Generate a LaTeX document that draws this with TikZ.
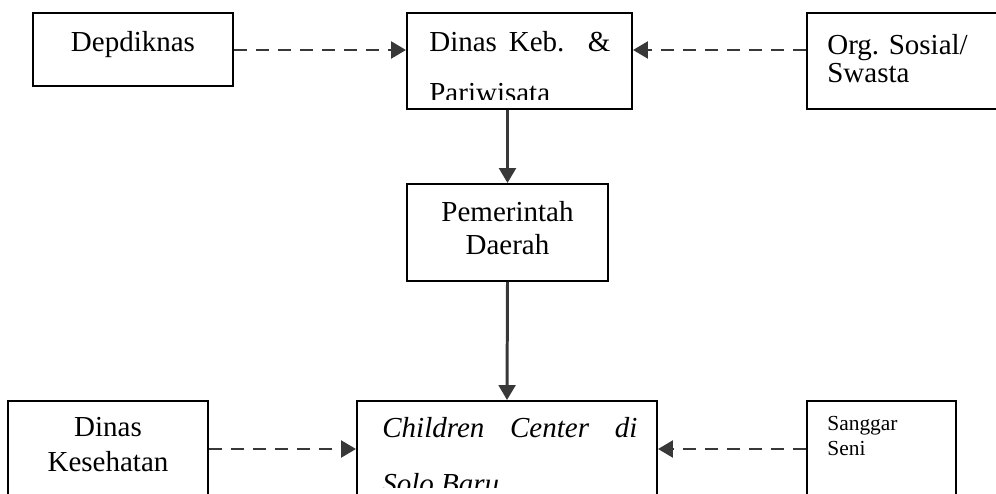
\documentclass[tikz,border=0pt]{standalone}
\usepackage{fontspec}
\setmainfont{Liberation Serif}
\usetikzlibrary{arrows.meta}

\tikzset{
  kotak/.style={draw, line width=1.1pt, inner sep=0pt},
  teks/.style={inner sep=0pt, font=\fontsize{16.5}{20}\selectfont},
  kecil/.style={inner sep=0pt, font=\fontsize{12.2}{14}\selectfont},
  garis/.style={draw=black!78, line width=1.7pt, -{Triangle[length=8.5pt,width=9.5pt]}},
  putus/.style={garis, dash pattern=on 7.5pt off 5pt},
}

\begin{document}
\begin{tikzpicture}
    \useasboundingbox (0,0) rectangle (19.92,-9.88);

    % kotak atas
    \node [kotak, minimum width=4cm, minimum height=1.46cm] (dep) at (2.66,-0.99) {};
    \node [kotak, minimum width=4.5cm, minimum height=1.92cm] (keb) at (10.39,-1.22) {};
    \node [kotak, minimum width=4.06cm, minimum height=1.92cm] (org) at (18.17,-1.22) {};
    \node [kotak, minimum width=4.02cm, minimum height=1.94cm] (pem) at (10.15,-4.65) {};

    % kotak bawah (terpotong di tepi bawah)
    \node [kotak, minimum width=4cm, minimum height=2.58cm] (kes) at (2.16,-9.31) {};
    \node [kotak, minimum width=6cm, minimum height=2.58cm] (chi) at (10.14,-9.31) {};
    \node [kotak, minimum width=2.98cm, minimum height=2.58cm] (san) at (17.63,-9.31) {};

    % teks
    \node [teks, anchor=base] (depA) at (2.66,-1.04) {Depdiknas};
    \node [teks, anchor=base west] (kebA) at (8.58,-1.03) {\makebox[3.62cm][s]{Dinas Keb. \&}};
    \begin{scope}
      \clip (8,-1.5) rectangle (12.6,-2.0);
      \node [teks, anchor=base west] (kebB) at (8.58,-2.06) {Pariwisata};
    \end{scope}
    \node [teks, anchor=base west] (orgA) at (16.54,-1.1) {Org. Sosial/};
    \node [teks, anchor=base west] (orgB) at (16.54,-1.66) {Swasta};
    \node [teks, anchor=base] (pemA) at (10.15,-4.44) {Pemerintah};
    \node [teks, anchor=base] (pemB) at (10.15,-5.1) {Daerah};
    \node [teks, anchor=base] (kesA) at (2.16,-8.73) {Dinas};
    \node [teks, anchor=base] (kesB) at (2.16,-9.43) {Kesehatan};
    \node [teks, anchor=base west] (chiA) at (7.64,-8.74) {\itshape\makebox[5.1cm][s]{Children Center di}};
    \begin{scope}
      \clip (7,-9.2) rectangle (12.9,-9.74);
      \node [teks, anchor=base west] (chiB) at (7.64,-9.86) {\itshape Solo Baru};
    \end{scope}
    \node [kecil, anchor=base west] (sanA) at (16.54,-8.6) {Sanggar};
    \node [kecil, anchor=base west] (sanB) at (16.54,-9.1) {Seni};

    % panah
    \coordinate (atas) at (0,-1.0);
    \coordinate (bawah) at (0,-8.98);
    \draw [putus] (dep.east |- atas) -- (keb.west |- atas);
    \draw [putus] (org.west |- atas) -- (keb.east |- atas);
    \draw [garis] (pem.north |- keb.south) -- (pem.north);
    \draw [garis] (pem.south) -- (chi.north);
    \draw [putus] (kes.east |- bawah) -- (chi.west |- bawah);
    \draw [putus] (san.west |- bawah) -- (chi.east |- bawah);
\end{tikzpicture}
\end{document}
